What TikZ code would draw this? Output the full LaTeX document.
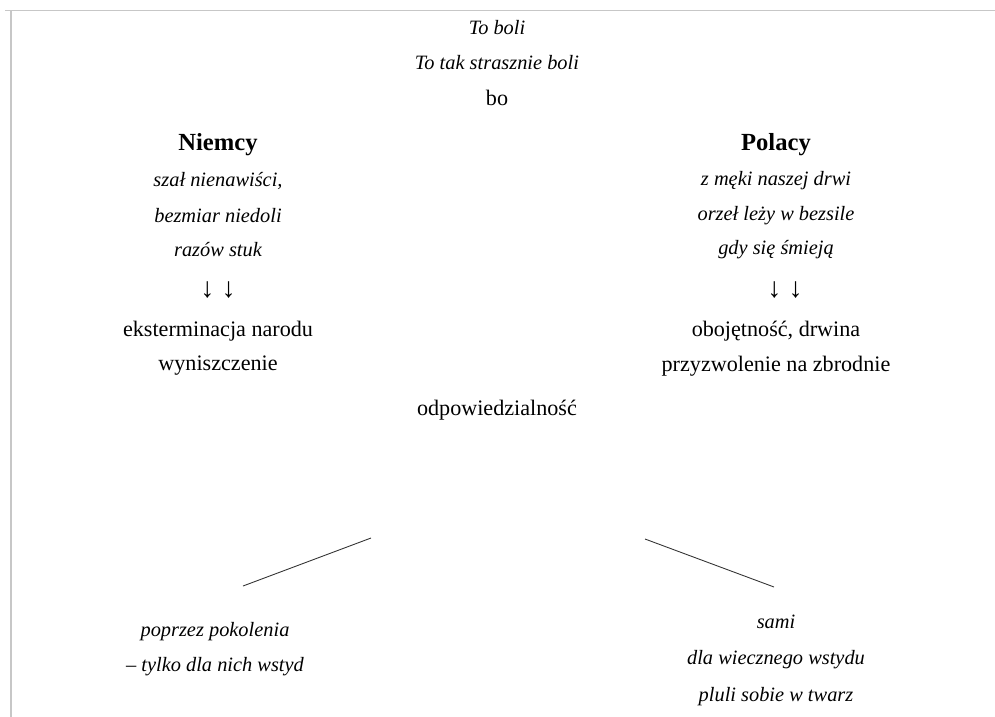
\documentclass[tikz,border=0pt]{standalone}
\usepackage{fontspec}
\setmainfont{Liberation Serif}
\tikzset{
  verse/.style={font=\fontsize{11.6}{14}\selectfont\itshape, inner sep=0pt},
  plain/.style={font=\fontsize{12.6}{15}\selectfont, inner sep=0pt},
  head/.style={font=\fontsize{14}{17}\selectfont\bfseries, inner sep=0pt},
  downs/.style={font=\fontsize{16}{19}\selectfont, inner sep=0pt},
  frame/.style={draw=black!22, line width=0.8pt},
  link/.style={draw=black!80, line width=0.5pt}
}
\begin{document}
\begin{tikzpicture}[x=0.02cm,y=-0.02cm]
\useasboundingbox (0,0) rectangle (995,717);
{%

% Drawing frame
\draw [frame] (5,10.5) -- (995,10.5);%
\draw [frame] (11,10) -- (11,717);%

% Marking top lines
\node [verse] (toboli) at (497,28) {To boli};%
\node [verse] (strasznie) at (497,63) {To tak strasznie boli};%
\node [plain] (bo) at (497,98) {bo};%

% Marking left column
\node [head] (niemcy) at (218,145) {Niemcy};%
\node [verse] (szal) at (218,181) {szał nienawiści,};%
\node [verse] (bezmiar) at (218,216) {bezmiar niedoli};%
\node [verse] (razow) at (218,250) {razów stuk};%
\node [downs] (arrowsl) at (218,290) {↓ ↓};%
\node [plain] (ekster) at (218,331) {eksterminacja narodu};%
\node [plain] (wynisz) at (218,366) {wyniszczenie};%

% Marking right column
\node [head] (polacy) at (776,145) {Polacy};%
\node [verse] (meki) at (776,181) {z męki naszej drwi};%
\node [verse] (orzel) at (776,216) {orzeł leży w bezsile};%
\node [verse] (smieja) at (776,250) {gdy się śmieją};%
\node [downs] (arrowsr) at (785,290) {↓ ↓};%
\node [plain] (oboj) at (776,331) {obojętność, drwina};%
\node [plain] (przyzw) at (776,366) {przyzwolenie na zbrodnie};%

% Marking centre
\node [plain] (odp) at (497,410) {odpowiedzialność};%

% Drawing line odp - left
\coordinate (lstart) at (371,538);%
\coordinate (lend) at (243,586);%
\draw [link] (lstart) -- (lend);%

% Drawing line odp - right
\coordinate (rstart) at (645,539);%
\coordinate (rend) at (774,587);%
\draw [link] (rstart) -- (rend);%

% Marking bottom left
\node [verse] (pokol) at (215,632) {poprzez pokolenia};%
\node [verse] (wstyd) at (215,667) {– tylko dla nich wstyd};%

% Marking bottom right
\node [verse] (sami) at (776,622) {sami};%
\node [verse] (wieczn) at (776,660) {dla wiecznego wstydu};%
\node [verse] (pluli) at (776,697) {pluli sobie w twarz};%
}
\end{tikzpicture}
\end{document}
